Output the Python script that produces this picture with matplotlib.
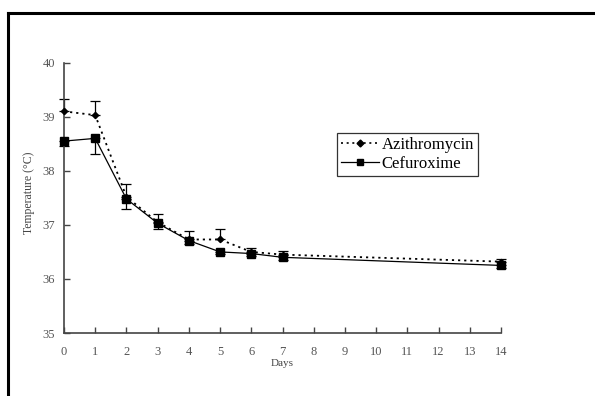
import matplotlib
matplotlib.use("Agg")
import matplotlib.pyplot as plt
from matplotlib.lines import Line2D

days = [0, 1, 2, 3, 4, 5, 6, 7, 14]
azithro = [39.10, 39.03, 37.52, 37.05, 36.73, 36.73, 36.50, 36.45, 36.32]
azithro_err = [0.23, 0.27, 0.23, 0.15, 0.15, 0.20, 0.08, 0.06, 0.05]
cefur = [38.55, 38.60, 37.48, 37.03, 36.71, 36.50, 36.47, 36.40, 36.25]
cefur_err = [0.10, 0.29, 0.18, 0.10, 0.06, 0.04, 0.04, 0.05, 0.05]
xticks = list(range(0, 15))
yticks = [35, 36, 37, 38, 39, 40]

plt.rcParams['font.family'] = ['Liberation Serif', 'DejaVu Serif']

fig = plt.figure(figsize=(5.95, 3.96), dpi=100)
W, H = 595, 396
ax = fig.add_axes([64 / W, (H - 333) / H, (501 - 64) / W, (333 - 62.7) / H])

ax.errorbar(days, azithro, yerr=[[0] * len(azithro_err), azithro_err],
            fmt='none', ecolor='black', elinewidth=0.9, capsize=3.5, capthick=0.9,
            clip_on=False)
ax.errorbar(days, cefur, yerr=[cefur_err, [0] * len(cefur_err)],
            fmt='none', ecolor='black', elinewidth=0.9, capsize=3.5, capthick=0.9,
            clip_on=False)
ax.plot(days, azithro, linestyle=(0, (1.2, 2.2)), color='black', linewidth=1.3,
        marker='D', markersize=3.2, clip_on=False, zorder=4)
ax.plot(days, cefur, linestyle='-', color='black', linewidth=0.9,
        marker='s', markersize=5.5, clip_on=False, zorder=5)

ax.set_xlim(0, 14)
ax.set_ylim(35, 40)
ax.set_xticks(xticks)
ax.set_yticks(yticks)
for s in ['top', 'right']:
    ax.spines[s].set_visible(False)
for s in ['left', 'bottom']:
    ax.spines[s].set_color('#444444')
    ax.spines[s].set_linewidth(1.2)
ax.tick_params(direction='in', length=4, width=1, color='#444444',
               labelsize=9, labelcolor='#555555')
ax.tick_params(axis='x', pad=9.5)
ax.tick_params(axis='y', pad=6.5)
ax.set_xlabel('Days', fontsize=8, color='#444444')
ax.xaxis.set_label_coords(0.5, -0.095)
ax.set_ylabel('Temperature (°C)', fontsize=8.5, color='#444444')
ax.yaxis.set_label_coords(-0.066, 0.52)

handles = [
    Line2D([], [], linestyle=(0, (1.2, 2.2)), color='black', linewidth=1.2,
           marker='D', markersize=3.5),
    Line2D([], [], linestyle='-', color='black', linewidth=0.9,
           marker='s', markersize=5),
]
leg = fig.legend(handles, ['Azithromycin', 'Cefuroxime'],
                 loc='upper left', bbox_to_anchor=(336.5 / W, 1 - 133 / H),
                 fontsize=12, frameon=True, fancybox=False, edgecolor='black',
                 handlelength=2.3, handletextpad=0.15, borderpad=0.25,
                 labelspacing=0.15, borderaxespad=0)
leg.get_frame().set_linewidth(0.9)

# outer frame (top and left edges)
fig.add_artist(Line2D([7.5 / W, 1.0], [1 - 13 / H, 1 - 13 / H],
                      color='black', linewidth=2.2, transform=fig.transFigure))
fig.add_artist(Line2D([7.5 / W, 7.5 / W], [0, 1 - 13 / H],
                      color='black', linewidth=2.2, transform=fig.transFigure))

fig.savefig('out.png', dpi=100)
